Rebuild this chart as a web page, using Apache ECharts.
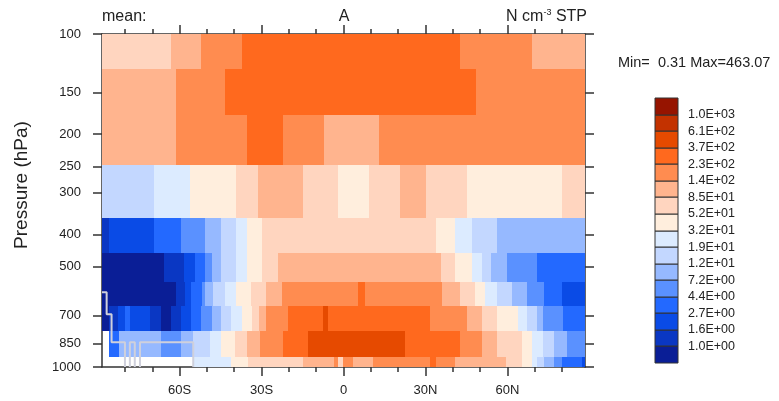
<!DOCTYPE html>
<html>
<head>
<meta charset="utf-8">
<script src="https://cdn.jsdelivr.net/npm/echarts@6/dist/echarts.min.js"></script>
<style>
  html, body { margin: 0; padding: 0; background: #fff; }
  #chart { width: 779px; height: 401px; }
</style>
</head>
<body>
<div id="chart"></div>
<script>
// axis data
const latMin = -88.4, latMax = 88.4
// layer boundaries (hPa) of the ten model levels 100 ... 1000
const layerEdges = [100, 127, 175, 248, 358, 456, 557, 656, 780, 933, 1000]
const majorLats = [-60, -30, 0, 30, 60]
const minorLats = [-80, -70, -50, -40, -20, -10, 10, 20, 40, 50, 70, 80]
const pressureTicks = [100, 150, 200, 250, 300, 400, 500, 700, 850, 1000]
const levelLabels = ['1.0E+00', '1.6E+00', '2.7E+00', '4.4E+00', '7.2E+00', '1.2E+01', '1.9E+01', '3.2E+01',
    '5.2E+01', '8.5E+01', '1.4E+02', '2.3E+02', '3.7E+02', '6.1E+02', '1.0E+03']
const palette = ['#0a1e96', '#0a37c3', '#0a4be6', '#2369ff', '#5a91ff', '#96b9ff', '#c3d7ff', '#dcebff',
    '#ffeedd', '#ffd5bf', '#ffb48e', '#ff8c50', '#ff691e', '#e64a00', '#c33200', '#961400']

// one row per level: [start latitude, colour class], a run lasts until the next start (null = missing)
const row100 = [[-88.4, 9], [-63.3, 10], [-52.3, 11], [-37.0, 12], [42.7, 11], [69.0, 10]]
const row150 = [[-88.4, 10], [-61.4, 11], [-43.5, 12], [48.6, 11]]
const row200 = [[-88.4, 10], [-61.4, 11], [-35.3, 12], [-22.3, 11], [-7.2, 10], [13.1, 11]]
const row300 = [[-88.4, 6], [-69.2, 7], [-56.1, 8], [-39.2, 9], [-31.3, 10], [-14.7, 9], [-1.9, 8], [9.5, 9],
    [20.7, 10], [30.2, 9], [45.2, 8], [80.0, 9]]
const row400 = [[-88.4, 1], [-86.0, 2], [-69.2, 3], [-59.6, 4], [-50.8, 5], [-44.9, 6], [-39.2, 7], [-35.5, 8],
    [-30.0, 9], [33.9, 8], [40.9, 7], [47.0, 6], [56.2, 5]]
const row500 = [[-88.4, 0], [-65.7, 1], [-58.4, 2], [-54.5, 3], [-50.8, 4], [-48.3, 5], [-44.9, 6], [-39.2, 7],
    [-35.5, 8], [-30.0, 9], [-24.1, 10], [35.7, 9], [40.9, 8], [47.0, 7], [50.7, 6], [54.0, 5], [59.9, 4], [70.9, 3]]
const row600 = [[-88.4, 0], [-61.2, 1], [-58.1, 2], [-55.7, 3], [-51.8, 4], [-50.8, 5], [-47.8, 6], [-43.5, 7],
    [-39.2, 8], [-33.7, 9], [-28.2, 10], [-22.5, 11], [5.4, 12], [7.9, 11], [36.0, 10], [42.7, 9], [48.2, 8],
    [51.9, 7], [56.2, 6], [61.7, 5], [67.2, 4], [73.3, 3], [80.0, 2]]
const row700 = [[-88.4, 0], [-86.0, 1], [-82.6, 2], [-80.1, 3], [-78.3, 2], [-71.0, 1], [-66.9, 0], [-63.0, 1],
    [-59.6, 2], [-55.7, 3], [-52.3, 4], [-48.1, 5], [-44.9, 6], [-41.0, 7], [-37.0, 8], [-33.5, 9], [-31.0, 10],
    [-28.2, 11], [-20.2, 12], [-7.4, 13], [-5.8, 12], [31.5, 11], [45.2, 10], [50.8, 9], [56.2, 8], [63.8, 7],
    [67.3, 6], [70.9, 5], [73.1, 4], [80.3, 3]]
const row850 = [[-88.4, null], [-85.7, 3], [-82.0, 5], [-66.7, 4], [-59.6, 5], [-55.1, 6], [-49.0, 7], [-44.7, 8],
    [-39.8, 9], [-35.4, 10], [-30.6, 11], [-22.1, 12], [-13.0, 13], [22.6, 12], [42.7, 11], [50.8, 10], [56.2, 9],
    [65.4, 8], [69.0, 7], [73.2, 6], [77.0, 5], [81.9, 4]]
const row1000 = [[-88.4, null], [-55.1, 7], [-41.0, 8], [-35.0, 9], [-14.7, 10], [-3.4, 11], [-2.1, 9], [-0.1, 11],
    [3.6, 10], [10.9, 11], [31.5, 12], [33.9, 11], [40.9, 10], [59.6, 9], [65.4, 8], [69.0, 7], [70.9, 6],
    [73.3, 5], [77.0, 4], [80.0, 3], [87.4, 2]]
const rows = [row100, row150, row200, row300, row400, row500, row600, row700, row850, row1000]

// surface outline near Antarctica: [latitude, pressure]
const groundLine = [
    [[-88.4, 596], [-86.7, 596], [-86.7, 694], [-84.9, 694], [-84.9, 842], [-80.0, 842], [-80.0, 1000]],
    [[-78.2, 1000], [-78.2, 842], [-76.4, 842], [-76.4, 1000]],
    [[-74.5, 1000], [-74.5, 842], [-55.0, 842], [-55.0, 1000]]
]

const FONT = 'Liberation Sans, Arial, Helvetica, sans-serif'
const lg = Math.log10

const cells = []
rows.forEach((row, i) => {
    row.forEach((run, j) => {
        if (run[1] === null) return
        const lat1 = j + 1 < row.length ? row[j + 1][0] : latMax
        cells.push([run[0], lat1, lg(layerEdges[i]), lg(layerEdges[i + 1]), run[1]])
    })
})

const latLabel = (v) => v === 0 ? '0' : Math.abs(v) + (v < 0 ? 'S' : 'N')

const rectItem = (api, v0, v1, fill, stroke) => {
    const a = api.coord(v0)
    const b = api.coord(v1)
    const x0 = Math.round(Math.min(a[0], b[0])), x1 = Math.round(Math.max(a[0], b[0]))
    const y0 = Math.round(Math.min(a[1], b[1])), y1 = Math.round(Math.max(a[1], b[1]))
    return {
        type: 'rect',
        shape: { x: x0, y: y0, width: x1 - x0, height: y1 - y0 },
        style: stroke ? { fill: fill, stroke: stroke, lineWidth: 1 } : { fill: fill }
    }
}

const latAxis = (pos, ticks, len, labels) => ({
    type: 'value', gridIndex: 0, position: pos, min: latMin, max: latMax,
    axisLine: { show: labels, onZero: false, lineStyle: { color: '#333', width: 1.5 } },
    axisTick: { show: true, customValues: ticks, length: len, lineStyle: { color: '#333', width: 1.5 } },
    axisLabel: labels && pos === 'bottom'
        ? { show: true, customValues: ticks, formatter: latLabel, margin: 17, fontSize: 13, color: '#222', fontFamily: FONT }
        : { show: false },
    splitLine: { show: false }
})

const presAxis = (pos, labels) => ({
    type: 'value', gridIndex: 0, position: pos, min: 2, max: 3, inverse: true,
    axisLine: { show: true, onZero: false, lineStyle: { color: '#333', width: 1.5 } },
    axisTick: { show: true, customValues: pressureTicks.map(lg), length: 9, lineStyle: { color: '#333', width: 1.5 } },
    axisLabel: labels
        ? { show: true, customValues: pressureTicks.map(lg), formatter: (v) => String(Math.round(Math.pow(10, v))),
            margin: 21, fontSize: 13, color: '#222', fontFamily: FONT }
        : { show: false },
    splitLine: { show: false }
})

const chart = echarts.init(document.getElementById('chart'), null, { renderer: 'canvas' })

const lineSeries = groundLine.map((seg) => ({
    type: 'line', xAxisIndex: 0, yAxisIndex: 0,
    data: seg.map((p) => [p[0], lg(p[1])]),
    showSymbol: false, symbol: 'none', silent: true, z: 5,
    lineStyle: { color: '#cfd0dc', width: 2 }
}))

chart.setOption({
    animation: false,
    backgroundColor: '#fff',
    grid: [
        { left: 102, right: 194, top: 34, bottom: 34 },
        { left: 655, top: 98, width: 23, height: 265 }
    ],
    xAxis: [
        latAxis('bottom', majorLats, 9, true),
        latAxis('bottom', minorLats, 5, false),
        latAxis('top', majorLats, 9, true),
        latAxis('top', minorLats, 5, false),
        { type: 'value', gridIndex: 1, min: 0, max: 1, show: false }
    ],
    yAxis: [
        presAxis('left', true),
        presAxis('right', false),
        {
            type: 'value', gridIndex: 1, min: 0, max: 16, interval: 1, position: 'right',
            axisLine: { show: false }, axisTick: { show: false }, splitLine: { show: false },
            axisLabel: {
                formatter: (v) => levelLabels[v - 1] || '',
                margin: 10, fontSize: 12.5, color: '#222', fontFamily: FONT
            }
        }
    ],
    series: [
        {
            type: 'custom', xAxisIndex: 0, yAxisIndex: 0, clip: true, silent: true,
            encode: { x: [0, 1], y: [2, 3] },
            data: cells,
            renderItem: (params, api) => rectItem(api, [api.value(0), api.value(2)], [api.value(1), api.value(3)],
                palette[api.value(4)])
        },
        ...lineSeries,
        {
            // colour bar
            type: 'custom', xAxisIndex: 4, yAxisIndex: 2, silent: true,
            encode: { x: [0, 1], y: [2, 3] },
            data: palette.map((c, i) => [0, 1, i, i + 1]),
            renderItem: (params, api) => rectItem(api, [0, api.value(2)], [1, api.value(3)],
                palette[params.dataIndex], '#333')
        }
    ],
    graphic: [
        { type: 'text', x: 102, y: 17, style: { text: 'mean:', font: '16px ' + FONT, fill: '#222',
            textAlign: 'left', textVerticalAlign: 'middle', align: 'left', verticalAlign: 'middle' } },
        { type: 'text', x: 344, y: 17, style: { text: 'A', font: '16px ' + FONT, fill: '#222',
            textAlign: 'center', textVerticalAlign: 'middle', align: 'center', verticalAlign: 'middle' } },
        { type: 'text', x: 587, y: 17, style: {
            text: '{a|N cm}{s|-3}{a| STP}', fill: '#222', textAlign: 'right', textVerticalAlign: 'middle',
            align: 'right', verticalAlign: 'middle',
            rich: { a: { fontSize: 16, fontFamily: FONT, color: '#222' },
                    s: { fontSize: 9, fontFamily: FONT, color: '#222', verticalAlign: 'top', padding: [0, 0, 8, 0] } }
        } },
        { type: 'text', x: 618, y: 63, style: { text: 'Min=  0.31 Max=463.07', font: '14.5px ' + FONT, fill: '#222',
            textAlign: 'left', textVerticalAlign: 'middle', align: 'left', verticalAlign: 'middle' } },
        { type: 'text', x: 22, y: 185, rotation: Math.PI / 2, style: { text: 'Pressure (hPa)', font: '19px ' + FONT,
            fill: '#222', textAlign: 'center', textVerticalAlign: 'middle', align: 'center', verticalAlign: 'middle' } }
    ]
})
</script>
</body>
</html>
